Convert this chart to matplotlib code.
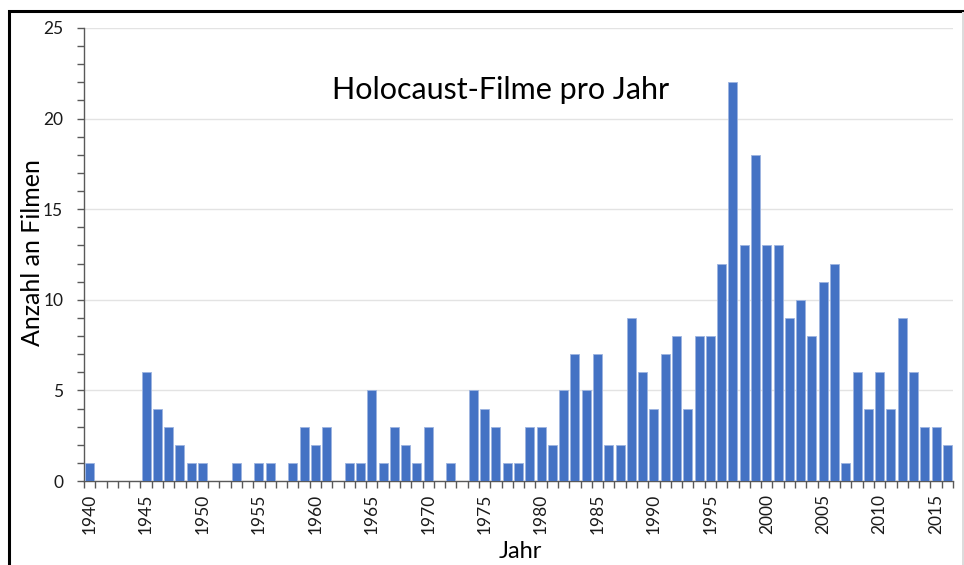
import numpy as np
import matplotlib.pyplot as plt
from matplotlib.patches import Rectangle
from matplotlib.ticker import FixedLocator, MultipleLocator

plt.rcParams['font.family'] = ['Lato', 'DejaVu Sans']

# Anzahl Holocaust-Filme je Jahr, 1940-2016
jahre = list(range(1940, 2017))
anzahl = [
    1, 0, 0, 0, 0, 6, 4, 3, 2, 1,      # 1940-1949
    1, 0, 0, 1, 0, 1, 1, 0, 1, 3,      # 1950-1959
    2, 3, 0, 1, 1, 5, 1, 3, 2, 1,      # 1960-1969
    3, 0, 1, 0, 5, 4, 3, 1, 1, 3,      # 1970-1979
    3, 2, 5, 7, 5, 7, 2, 2, 9, 6,      # 1980-1989
    4, 7, 8, 4, 8, 8, 12, 22, 13, 18,  # 1990-1999
    13, 13, 9, 10, 8, 11, 12, 1, 6, 4, # 2000-2009
    6, 4, 9, 6, 3, 3, 2,               # 2010-2016
]
titel = 'Holocaust-Filme pro Jahr'
y_titel = 'Anzahl an Filmen'
x_titel = 'Jahr'

W, H = 964, 565
fig = plt.figure(figsize=(W / 100, H / 100), dpi=100)
ax = fig.add_axes([84 / W, 1 - 481 / H, (953 - 84) / W, (481 - 28) / H])

x = np.arange(len(jahre))
ax.bar(x, anzahl, width=0.8, color='#4472C4', edgecolor='#9db4e0', linewidth=0.6, zorder=3)

ax.set_xlim(-0.5, len(jahre) - 0.5)
ax.set_ylim(0, 25)

# Beschriftung alle 5 Jahre, Teilstriche zwischen den Kategorien
label_pos = [i for i, j in enumerate(jahre) if j % 5 == 0]
ax.set_xticks(label_pos)
ax.set_xticklabels([str(jahre[i]) for i in label_pos], rotation=90)
ax.xaxis.set_minor_locator(FixedLocator(np.arange(-0.5, len(jahre), 1.0)))
ax.tick_params(axis='x', which='major', length=0, pad=9, labelsize=12.5, colors='#1a1a1a')
ax.tick_params(axis='x', which='minor', length=5, width=1, color='#595959')

ax.yaxis.set_major_locator(MultipleLocator(5))
ax.yaxis.set_minor_locator(MultipleLocator(1))
ax.tick_params(axis='y', which='both', length=5, width=1, color='#595959', labelsize=12.5,
               labelcolor='#1a1a1a', pad=10)

ax.grid(axis='y', which='major', color='#e3e3e3', linewidth=1, zorder=0)
for s in ['top', 'right']:
    ax.spines[s].set_visible(False)
for s in ['left', 'bottom']:
    ax.spines[s].set_color('#595959')
    ax.spines[s].set_linewidth(1)

ax.text(0.479, 0.863, titel, transform=ax.transAxes, ha='center', va='center', fontsize=22)
fig.text(33 / W, 1 - 253 / H, y_titel, rotation=90, ha='center', va='center', fontsize=18)
fig.text(520 / W, 1 - 551 / H, x_titel, ha='center', va='center', fontsize=17)

# schwarzer Rahmen oben und links, grauer Rand rechts
fig.patches.append(Rectangle((8.5 / W, -0.1), 2, 1.1 - 10.5 / H, transform=fig.transFigure,
                             fill=False, edgecolor='black', linewidth=2.2))
fig.patches.append(Rectangle((962 / W, 0), 2 / W, 1 - 12 / H, transform=fig.transFigure,
                             color='#dcdcdc', linewidth=0))

fig.savefig('out.png', dpi=100)
